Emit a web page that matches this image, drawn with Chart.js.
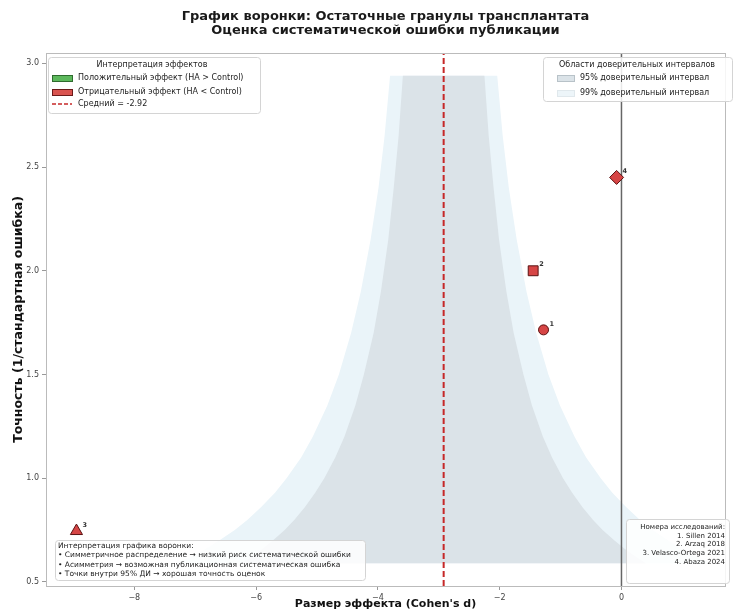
<!DOCTYPE html>
<html>
<head>
<meta charset="UTF-8">
<title>Funnel plot</title>
<script src="https://cdn.jsdelivr.net/npm/chart.js"></script>
<style>
  html, body { margin: 0; padding: 0; background: #fff; }
</style>
</head>
<body>
<canvas id="c" width="733" height="614"></canvas>
<script>
// studies
const studyIds = [1, 2, 3, 4];
const studyNames = ['1. Sillen 2014', '2. Arzaq 2018', '3. Velasco-Ortega 2021', '4. Abaza 2024'];
const effectSizes = [-1.28, -1.45, -8.95, -0.08];
const precisions = [1.715, 2.0, 0.745, 2.45];
const meanEffect = -2.92;

// funnel boundaries
const funnelPrecision = [0.59, 0.62, 0.66, 0.70, 0.75, 0.80, 0.86, 0.93, 1.0, 1.1, 1.2, 1.35, 1.5, 1.7, 1.9, 2.15, 2.4, 2.65, 2.94];
const lo95 = [-6.24, -6.08, -5.89, -5.72, -5.53, -5.37, -5.20, -5.03, -4.88, -4.70, -4.55, -4.37, -4.23, -4.07, -3.95, -3.83, -3.74, -3.66, -3.59];
const hi95 = [0.40, 0.24, 0.05, -0.12, -0.31, -0.47, -0.64, -0.81, -0.96, -1.14, -1.29, -1.47, -1.61, -1.77, -1.89, -2.01, -2.10, -2.18, -2.25];
const lo99 = [-7.29, -7.07, -6.82, -6.60, -6.35, -6.14, -5.92, -5.69, -5.50, -5.26, -5.07, -4.83, -4.64, -4.44, -4.28, -4.12, -3.99, -3.89, -3.80];
const hi99 = [1.45, 1.23, 0.98, 0.76, 0.51, 0.30, 0.08, -0.15, -0.34, -0.58, -0.77, -1.01, -1.20, -1.40, -1.56, -1.72, -1.85, -1.95, -2.04];

const xTicks = [-8, -6, -4, -2, 0];
const yTicks = [0.5, 1.0, 1.5, 2.0, 2.5, 3.0];
const xMin = -9.45, xMax = 1.7, yMin = 0.48, yMax = 3.05;

const FONT = "'DejaVu Sans', sans-serif";
const RED = '#d64545', RED_EDGE = '#5a1212';

function polygon(lo, hi) {
  const pts = [];
  for (let i = 0; i < funnelPrecision.length; i++) pts.push({ x: lo[i], y: funnelPrecision[i] });
  for (let i = funnelPrecision.length - 1; i >= 0; i--) pts.push({ x: hi[i], y: funnelPrecision[i] });
  return pts;
}

function box(ctx, x, y, w, h) {
  ctx.save();
  ctx.fillStyle = 'rgba(255,255,255,0.85)';
  ctx.strokeStyle = '#d4d4d4';
  ctx.lineWidth = 1;
  ctx.beginPath();
  ctx.roundRect(x + 0.5, y + 0.5, w, h, 3);
  ctx.fill();
  ctx.stroke();
  ctx.restore();
}

const extras = {
  id: 'extras',
  afterDatasetsDraw(chart) {
    const ctx = chart.ctx;
    const meta = chart.getDatasetMeta(4);
    ctx.save();
    ctx.fillStyle = '#333';
    ctx.font = 'bold 6.5px ' + FONT;
    ctx.textAlign = 'left';
    ctx.textBaseline = 'middle';
    meta.data.forEach((pt, i) => {
      ctx.fillText(String(studyIds[i]), pt.x + 6, pt.y - 6);
    });
    ctx.restore();
  },
  afterDraw(chart) {
    const ctx = chart.ctx;
    const a = chart.chartArea;
    ctx.save();
    // frame
    ctx.strokeStyle = '#bbb';
    ctx.lineWidth = 1;
    ctx.strokeRect(a.left + 0.5, a.top + 0.5, a.right - a.left, a.bottom - a.top);

    // title
    ctx.fillStyle = '#1a1a1a';
    ctx.textAlign = 'center';
    ctx.textBaseline = 'middle';
    ctx.font = 'bold 13px ' + FONT;
    const cx = (a.left + a.right) / 2;
    ctx.fillText('График воронки: Остаточные гранулы трансплантата', cx, 17);
    ctx.fillText('Оценка систематической ошибки публикации', cx, 31);

    // left legend
    box(ctx, 48, 57, 212, 56);
    ctx.font = '8px ' + FONT;
    ctx.fillStyle = '#222';
    ctx.fillText('Интерпретация эффектов', 152, 65);
    ctx.textAlign = 'left';
    ctx.fillStyle = '#5cb85c'; ctx.strokeStyle = '#2e6b2e';
    ctx.fillRect(52, 75, 20, 6); ctx.strokeRect(52.5, 75.5, 20, 6);
    ctx.fillStyle = '#d9534f'; ctx.strokeStyle = '#6b1a1a';
    ctx.fillRect(52, 89, 20, 6); ctx.strokeRect(52.5, 89.5, 20, 6);
    ctx.strokeStyle = '#c62828'; ctx.lineWidth = 1.5; ctx.setLineDash([4, 2]);
    ctx.beginPath(); ctx.moveTo(52, 104); ctx.lineTo(72, 104); ctx.stroke();
    ctx.setLineDash([]); ctx.lineWidth = 1;
    ctx.fillStyle = '#222';
    ctx.fillText('Положительный эффект (HA > Control)', 78, 78);
    ctx.fillText('Отрицательный эффект (HA < Control)', 78, 92);
    ctx.fillText('Средний = ' + meanEffect.toFixed(2), 78, 104);

    // right legend
    box(ctx, 543, 57, 189, 44);
    ctx.textAlign = 'center';
    ctx.fillText('Области доверительных интервалов', 637, 65);
    ctx.fillStyle = '#dbe3e8'; ctx.strokeStyle = '#b8c2c8';
    ctx.fillRect(557, 75, 17, 6); ctx.strokeRect(557.5, 75.5, 17, 6);
    ctx.fillStyle = '#edf5f9'; ctx.strokeStyle = '#e0e8ec';
    ctx.fillRect(557, 90, 17, 6); ctx.strokeRect(557.5, 90.5, 17, 6);
    ctx.fillStyle = '#222';
    ctx.textAlign = 'left';
    ctx.fillText('95% доверительный интервал', 580, 78);
    ctx.fillText('99% доверительный интервал', 580, 93);

    // bottom-left note
    box(ctx, 55, 540, 310, 40);
    ctx.font = '7.5px ' + FONT;
    const note = [
      'Интерпретация графика воронки:',
      '• Симметричное распределение → низкий риск систематической ошибки',
      '• Асимметрия → возможная публикационная систематическая ошибка',
      '• Точки внутри 95% ДИ → хорошая точность оценок'
    ];
    note.forEach((t, i) => ctx.fillText(t, 58, 546 + i * 9.5));

    // bottom-right studies
    box(ctx, 626, 519, 103, 64);
    ctx.font = '7px ' + FONT;
    ctx.textAlign = 'right';
    ['Номера исследований:'].concat(studyNames).forEach((t, i) => ctx.fillText(t, 725, 527 + i * 8.8));
    ctx.restore();
  }
};

new Chart(document.getElementById('c').getContext('2d'), {
  type: 'scatter',
  data: {
    datasets: [
      {
        label: '99%',
        data: polygon(lo99, hi99),
        showLine: true,
        fill: 'shape',
        backgroundColor: '#eaf4f9',
        borderWidth: 0,
        pointRadius: 0,
        order: 5
      },
      {
        label: '95%',
        data: polygon(lo95, hi95),
        showLine: true,
        fill: 'shape',
        backgroundColor: '#dbe3e8',
        borderWidth: 0,
        pointRadius: 0,
        order: 4
      },
      {
        label: 'zero',
        data: [{ x: 0, y: yMin }, { x: 0, y: yMax }],
        showLine: true,
        borderColor: '#666',
        borderWidth: 1.5,
        pointRadius: 0,
        order: 3
      },
      {
        label: 'mean',
        data: [{ x: meanEffect, y: yMin }, { x: meanEffect, y: yMax }],
        showLine: true,
        borderColor: '#c62828',
        borderWidth: 2,
        borderDash: [6, 3],
        pointRadius: 0,
        order: 2
      },
      {
        label: 'studies',
        data: effectSizes.map((d, i) => ({ x: d, y: precisions[i] })),
        pointStyle: ['circle', 'rect', 'triangle', 'rectRot'],
        pointRadius: [5, 7, 7, 7],
        backgroundColor: RED,
        borderColor: RED_EDGE,
        borderWidth: 1,
        order: 1
      }
    ]
  },
  options: {
    responsive: false,
    animation: false,
    events: [],
    layout: { padding: { top: 53, right: 5, left: 0, bottom: 0 } },
    plugins: { legend: { display: false }, tooltip: { enabled: false } },
    scales: {
      x: {
        type: 'linear',
        min: xMin, max: xMax,
        afterBuildTicks: s => { s.ticks = xTicks.map(v => ({ value: v })); },
        afterFit: s => { s.height = 28; },
        ticks: {
          font: { family: FONT, size: 8 }, color: '#444', padding: 3,
          callback: v => String(v).replace('-', '\u2212')
        },
        grid: { drawOnChartArea: false, tickLength: 4, color: '#999' },
        border: { display: false },
        title: {
          display: true, text: "Размер эффекта (Cohen's d)",
          font: { family: FONT, size: 11, weight: 'bold' }, color: '#111',
          padding: { top: 0, bottom: 3 }
        }
      },
      y: {
        type: 'linear',
        min: yMin, max: yMax,
        afterBuildTicks: s => { s.ticks = yTicks.map(v => ({ value: v })); },
        afterFit: s => { s.width = 46; },
        ticks: {
          font: { family: FONT, size: 8 }, color: '#444', padding: 3,
          callback: v => v.toFixed(1)
        },
        grid: { drawOnChartArea: false, tickLength: 4, color: '#999' },
        border: { display: false },
        title: {
          display: true, text: 'Точность (1/стандартная ошибка)',
          font: { family: FONT, size: 12.5, weight: 'bold' }, color: '#111',
          padding: { top: 11, bottom: 0 }
        }
      }
    }
  },
  plugins: [extras]
});
</script>
</body>
</html>
